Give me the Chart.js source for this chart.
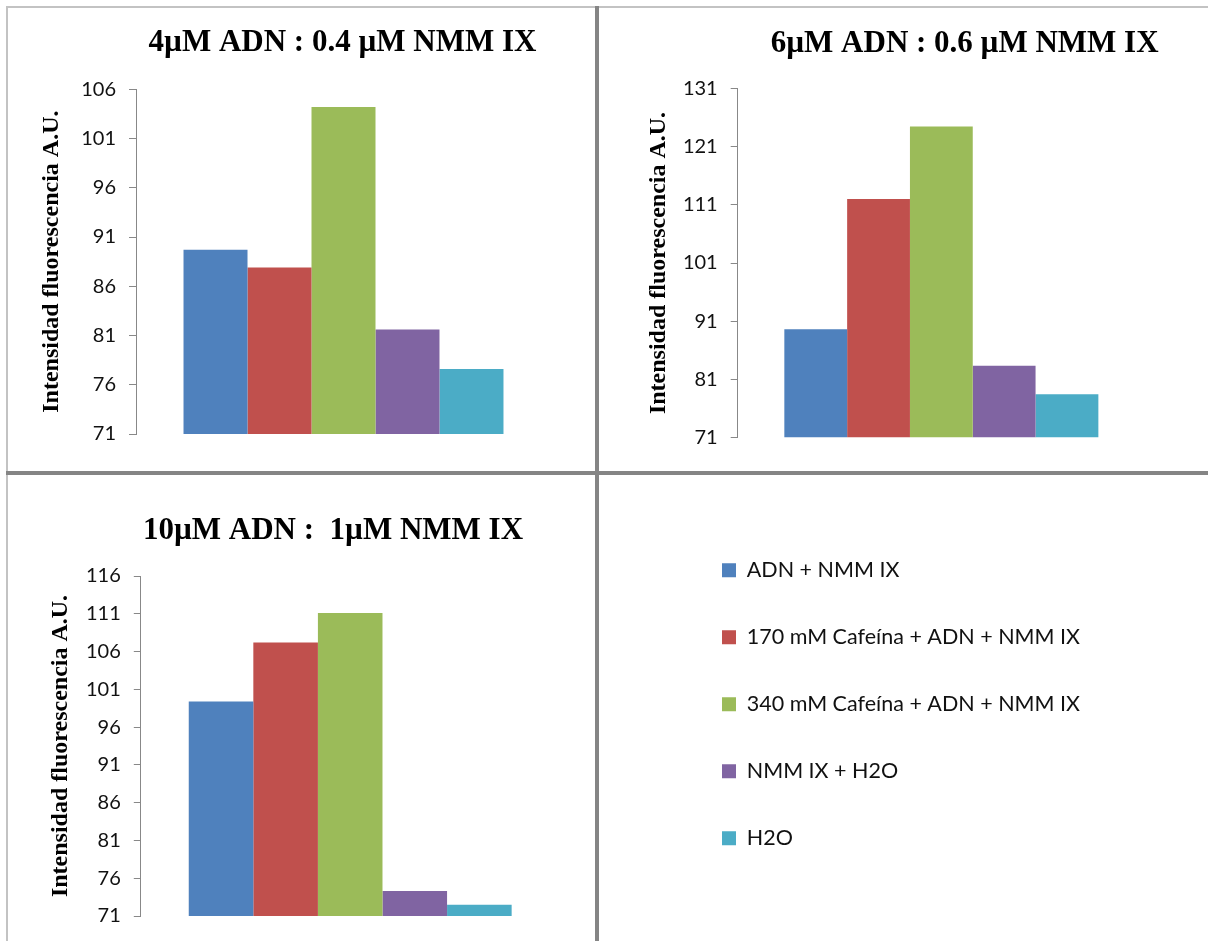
<!DOCTYPE html>
<html><head><meta charset="utf-8">
<script src="https://cdn.jsdelivr.net/npm/chart.js@4.4.1/dist/chart.umd.min.js"></script>
<style>
html,body{margin:0;padding:0;background:#fff;overflow:hidden;}
#wrap{position:relative;width:1208px;height:941px;background:#fff;}
canvas{position:absolute;}
.ln{position:absolute;z-index:2;}
</style></head><body>
<div id="wrap">
<canvas id="c1" width="586" height="462" style="left:9px;top:9px"></canvas>
<canvas id="c2" width="609" height="462" style="left:599px;top:9px"></canvas>
<canvas id="c3" width="586" height="466" style="left:9px;top:475px"></canvas>
<canvas id="c4" width="609" height="420" style="left:599px;top:514px"></canvas>
<div class="ln" style="left:6px;top:6px;width:1202px;height:2px;background:#c3c3c3"></div>
<div class="ln" style="left:6px;top:6px;width:2px;height:935px;background:#c3c3c3"></div>
<div class="ln" style="left:595px;top:6px;width:4px;height:935px;background:#858585"></div>
<div class="ln" style="left:6px;top:471px;width:1202px;height:4px;background:#858585"></div>
</div>
<script>
// ---- data ----
const categories = [''];
const seriesNames = ['ADN + NMM IX', '170 mM Cafeína + ADN + NMM IX', '340 mM Cafeína + ADN + NMM IX', 'NMM IX + H2O', 'H2O'];
const titles = ['4µM ADN : 0.4 µM NMM IX', '6µM ADN : 0.6 µM NMM IX', '10µM ADN :  1µM NMM IX'];
const yAxisTitle = 'Intensidad fluorescencia A.U.';
const values4uM = [89.7, 87.9, 104.2, 81.6, 77.6];
const values6uM = [89.6, 112.0, 124.5, 83.3, 78.4];
const values10uM = [99.4, 107.2, 111.1, 74.3, 72.5];
const ticks4uM = [71, 76, 81, 86, 91, 96, 101, 106];
const ticks6uM = [71, 81, 91, 101, 111, 121, 131];
const ticks10uM = [71, 76, 81, 86, 91, 96, 101, 106, 111, 116];

// ---- styles ----
const colors = ['#4F81BD', '#C0504D', '#9BBB59', '#8064A2', '#4BACC6'];
const TEXT = '#111';
const AXIS = '#888';

const titleShift = {
  id: 'titleShift',
  afterLayout(chart, args, opts) {
    const t = chart.titleBlock;
    if (t && opts.dx) { t.left += opts.dx; t.right += opts.dx; }
  }
};

function makePanel(id, values, ticks, title, L) {
  return new Chart(document.getElementById(id), {
    type: 'bar',
    data: {
      labels: categories,
      datasets: seriesNames.map((n, i) => ({
        label: n, data: [values[i]], backgroundColor: colors[i], borderWidth: 0
      }))
    },
    plugins: [titleShift],
    options: {
      responsive: false, animation: false, devicePixelRatio: 1,
      layout: { padding: { left: 0, right: L.padR, top: 0, bottom: L.padB } },
      categoryPercentage: 0.771, barPercentage: 1,
      plugins: {
        legend: { display: false },
        tooltip: { enabled: false },
        titleShift: { dx: L.dx },
        title: {
          display: true, text: title, fullSize: false,
          color: '#000',
          font: { family: 'Liberation Serif', weight: 'bold', size: 31, lineHeight: 1.2 },
          padding: { top: L.tTop, bottom: L.tBot }
        }
      },
      scales: {
        x: { display: false },
        y: {
          min: ticks[0], max: ticks[ticks.length - 1],
          afterBuildTicks: s => { s.ticks = ticks.map(v => ({ value: v })); },
          afterFit: s => { s.width = L.axisW; },
          border: { display: true, color: AXIS, width: 1 },
          grid: { drawOnChartArea: false, drawTicks: true, tickLength: 7, color: AXIS },
          ticks: { color: TEXT, padding: 13, font: { family: 'Lato', size: 20 } },
          title: {
            display: true, text: yAxisTitle, color: '#000',
            font: { family: 'Liberation Serif', weight: 'bold', size: 24, lineHeight: 1.2 },
            padding: { top: L.yTitle, bottom: 0 }
          }
        }
      }
    }
  });
}

// title font 31 -> lineHeight 37.2
makePanel('c1', values4uM, ticks4uM, titles[0],
  { padR: 44, padB: 37, tTop: 14.9, tBot: 28.2, axisW: 127, yTitle: 28.6, dx: -1 });
makePanel('c2', values6uM, ticks6uM, titles[1],
  { padR: 63, padB: 33.7, tTop: 16.7, tBot: 25.8, axisW: 138.7, yTitle: 45.3, dx: 23.3 });
makePanel('c3', values10uM, ticks10uM, titles[2],
  { padR: 35.4, padB: 19.3, tTop: 37.4, tBot: 26.4, axisW: 131.8, yTitle: 37.8, dx: -17.2 });

// legend panel
new Chart(document.getElementById('c4'), {
  type: 'bar',
  data: {
    labels: categories,
    datasets: seriesNames.map((n, i) => ({ label: n, data: [], backgroundColor: colors[i], borderWidth: 0 }))
  },
  options: {
    responsive: false, animation: false, devicePixelRatio: 1,
    layout: { padding: { left: 77.5, top: 0, right: 0, bottom: 0 } },
    scales: { x: { display: false }, y: { display: false } },
    plugins: {
      tooltip: { enabled: false },
      legend: {
        display: true, position: 'chartArea', align: 'start',
        labels: {
          color: TEXT, boxWidth: 14, boxHeight: 14, padding: 45.5,
          font: { family: 'Lato', size: 21.5 }
        }
      }
    }
  }
});
</script>
</body></html>
